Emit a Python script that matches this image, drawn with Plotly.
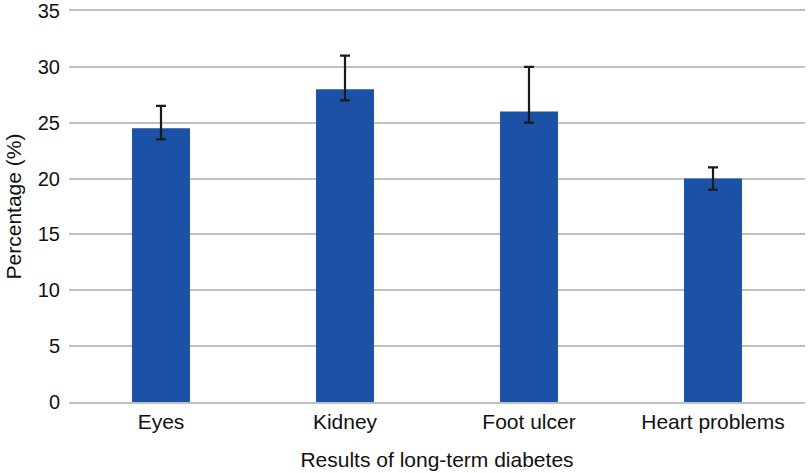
import plotly.graph_objects as go

categories = ["Eyes", "Kidney", "Foot ulcer", "Heart problems"]
values = [24.5, 28, 26, 20]
err_plus = [2, 3, 4, 1]
err_minus = [1, 1, 1, 1]
y_ticks = [0, 5, 10, 15, 20, 25, 30, 35]

fig = go.Figure(go.Bar(
    x=categories, y=values,
    marker=dict(color="#1b51a6", line=dict(width=0)),
    width=0.315,
    error_y=dict(type="data", symmetric=False, array=err_plus, arrayminus=err_minus,
                 color="#1a1a1a", thickness=2.2, width=5),
))

font = "Liberation Sans, Arial, sans-serif"
grid = "#c0c0c0"
fig.update_layout(
    width=810, height=473,
    margin=dict(l=69, r=5, t=11, b=71),
    paper_bgcolor="white", plot_bgcolor="white",
    font=dict(family=font, size=20, color="#111"),
    showlegend=False,
    xaxis=dict(title=dict(text="Results of long-term diabetes", standoff=20, font=dict(size=21)),
               automargin=False,
               showgrid=False, showline=True, mirror=True, linecolor=grid, linewidth=2,
               ticks="", ticklabelstandoff=0, tickfont=dict(size=21)),
    yaxis=dict(title=dict(text="Percentage (%)", standoff=10, font=dict(size=21)),
               automargin=False,
               range=[0, 35], tickvals=y_ticks, showgrid=True, gridcolor=grid,
               gridwidth=2, zeroline=False, showline=False,
               ticks="", ticklabelstandoff=8, ticklabeloverflow="allow",
               tickfont=dict(size=20)),
)
fig.write_html("out.html", config={"displayModeBar": False},
               post_script="document.body.style.margin='0';")
